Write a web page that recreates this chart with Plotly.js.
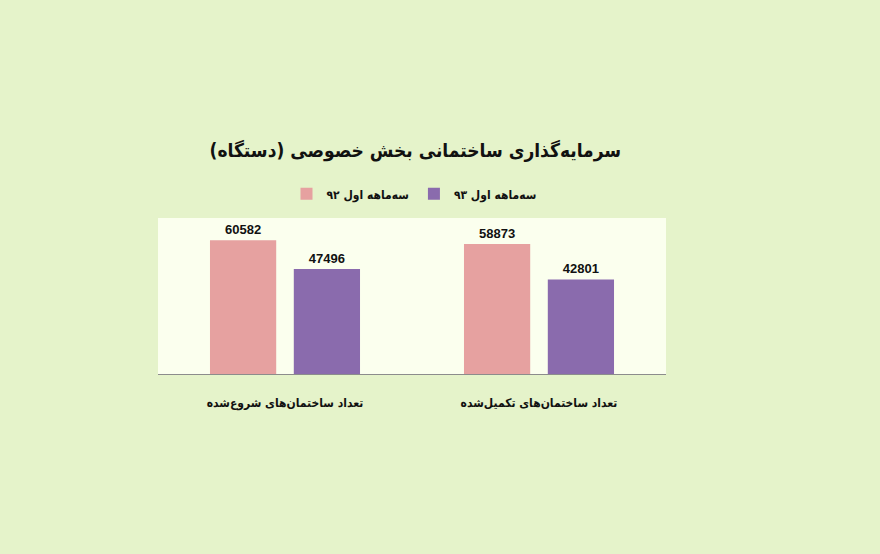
<!DOCTYPE html>
<html><head><meta charset="utf-8">
<script src="https://cdn.plot.ly/plotly-3.0.1.min.js"></script>
<style>html,body{margin:0;padding:0;background:#E5F3CA;}#c{width:880px;height:554px;}</style>
</head><body><div id="c"></div>
<script>
const categories = ['تعداد ساختمان‌های شروع‌شده', 'تعداد ساختمان‌های تکمیل‌شده'];
const seriesNames = ['سه‌ماهه اول ۹۲', 'سه‌ماهه اول ۹۳'];
const values92 = [60582, 58873];
const values93 = [47496, 42801];
const chartTitle = 'سرمایه‌گذاری ساختمانی بخش خصوصی (دستگاه)';

const FONT = 'DejaVu Sans Condensed, DejaVu Sans, sans-serif';
const NUMFONT = 'Liberation Sans, Arial, sans-serif';
const traces = [
  {type:'bar', name:seriesNames[0], x:categories, y:values92, marker:{color:'#E6A1A0'},
   text:values92.map(String), textposition:'outside', cliponaxis:false,
   textfont:{family:NUMFONT, size:13, color:'#111', weight:'bold'}},
  {type:'bar', name:seriesNames[1], x:categories, y:values93, marker:{color:'#8A6BAD'},
   text:values93.map(String), textposition:'outside', cliponaxis:false,
   textfont:{family:NUMFONT, size:13, color:'#111', weight:'bold'}}
];
const layout = {
  width:880, height:554,
  paper_bgcolor:'#E5F3CA', plot_bgcolor:'#FBFFEE',
  margin:{l:158, r:214, t:218, b:180},
  font:{family:FONT, color:'#111'},
  title:{text:'<b>'+chartTitle+'</b>', font:{family:FONT, size:19, color:'#111'},
         xref:'container', yref:'container', x:0.472, xanchor:'center', y:1-150/554, yanchor:'middle'},
  barmode:'group', bargap:0.34, bargroupgap:0.21,
  showlegend:true,
  legend:{orientation:'h', traceorder:'normal', x:(414-158)/508, xanchor:'center', y:1.155, yanchor:'middle',
          font:{family:FONT, size:12, color:'#111', weight:'bold'}, bgcolor:'rgba(0,0,0,0)', itemwidth:30},
  xaxis:{showline:true, linecolor:'#8C8C8C', linewidth:1, ticks:'', ticklabelstandoff:18,
         tickfont:{family:FONT, size:12, color:'#111', weight:'bold'}, fixedrange:true},
  yaxis:{range:[0, 70600], showgrid:false, zeroline:false, showticklabels:false, ticks:'', showline:false}
};
Plotly.newPlot('c', traces, layout, {displayModeBar:false, staticPlot:true});
</script></body></html>
